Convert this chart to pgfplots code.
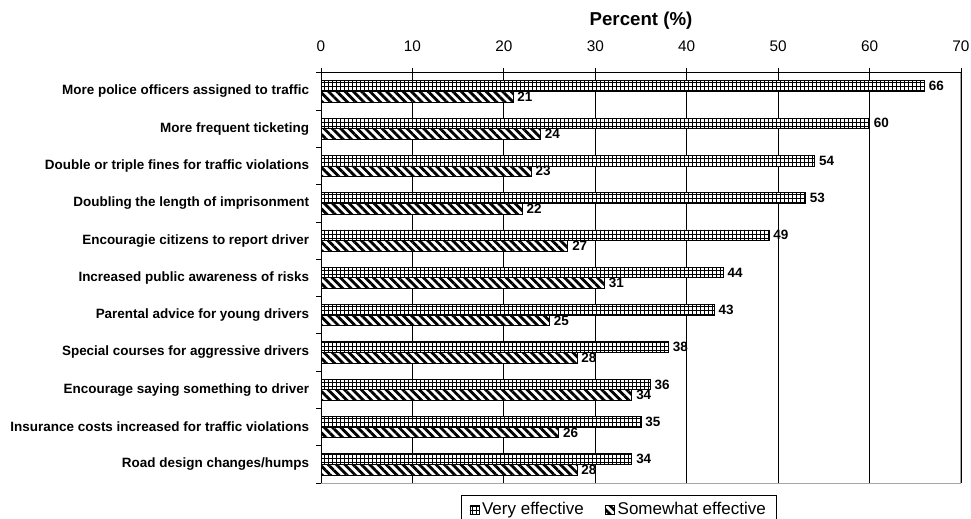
\documentclass[border=0pt]{standalone}
\usepackage{pgfplots}
\pgfplotsset{compat=1.18}
\usetikzlibrary{patterns.meta}
\usepackage{fontspec}
\setmainfont{Liberation Sans}

\begin{document}
\begin{tikzpicture}
\useasboundingbox (0,0) rectangle (728.25pt,388.5pt);
\node[anchor=base,font=\bfseries\fontsize{14}{16}\selectfont,inner sep=0pt] at (480.75pt,369pt) {Percent (\%)};
\begin{axis}[
  name=ax,
  at={(240.75pt,26.25pt)}, anchor=south west,
  scale only axis, width=480pt, height=307.7pt,
  xbar, bar width=8pt,
  xmin=0, xmax=70, ymin=-0.5, ymax=10.5, y dir=reverse,
  enlargelimits=false,
  /pgf/number format/assume math mode=true,
  xtick={0,10,...,70}, xticklabel pos=upper, xtick pos=right, ytick pos=left,
  xticklabel style={font=\fontsize{11.5}{13}\selectfont, inner sep=0pt, anchor=base, yshift=12pt},
  ytick={0,...,10},
  yticklabels={More police officers assigned to traffic, More frequent ticketing, Double or triple fines for traffic violations, Doubling the length of imprisonment, Encouragie citizens to report driver, Increased public awareness of risks, Parental advice for young drivers, Special courses for aggressive drivers, Encourage saying something to driver, Insurance costs increased for traffic violations, Road design changes/humps},
  yticklabel style={font=\bfseries\fontsize{10.1}{12}\selectfont, inner sep=0pt, anchor=east, xshift=-5pt},
  minor ytick={-0.5,0.5,...,10.5},
  tick align=outside, major tick length=3.75pt, minor tick length=3.75pt,
  major y tick style={draw=none},
  minor y tick style={black, line width=0.6pt},
  major x tick style={black, line width=0.6pt},
  xmajorgrids, major grid style={black, line width=0.6pt},
  axis line style={draw=gray!70, line width=0.75pt},
  point meta=x,
  nodes near coords,
  nodes near coords style={font=\bfseries\fontsize{10.1}{12}\selectfont, anchor=west, inner sep=0pt, xshift=3pt},
  legend columns=2,
  legend style={at={(axis description cs:0.4656,-0.03)}, anchor=north, draw=black, line width=0.6pt,
    font=\fontsize{12.75}{14}\selectfont, inner xsep=6pt, inner ysep=3pt,
    /tikz/every even column/.append style={column sep=14pt}},
  legend image code/.code={\draw[#1] (0pt,-3.4pt) rectangle (6.8pt,3.4pt);},
]
\addplot[draw=black, line width=0.6pt, fill=white, bar shift=4pt,
  postaction={pattern={Hatch[angle=0, distance=3pt, line width=0.5pt]}, pattern color=black}]
  coordinates {(66,0) (60,1) (54,2) (53,3) (49,4) (44,5) (43,6) (38,7) (36,8) (35,9) (34,10)};
\addplot[draw=black, line width=0.6pt, fill=white, bar shift=-4pt,
  postaction={pattern={Lines[angle=-45, distance=4.4pt, line width=2.1pt]}, pattern color=black}]
  coordinates {(21,0) (24,1) (23,2) (22,3) (27,4) (31,5) (25,6) (28,7) (34,8) (26,9) (28,10)};
\legend{Very effective, Somewhat effective}
\draw[black, line width=0.75pt] (axis cs:0,10.5) -- (axis cs:0,-0.5) -- (axis cs:70,-0.5);
\end{axis}
\end{tikzpicture}
\end{document}
